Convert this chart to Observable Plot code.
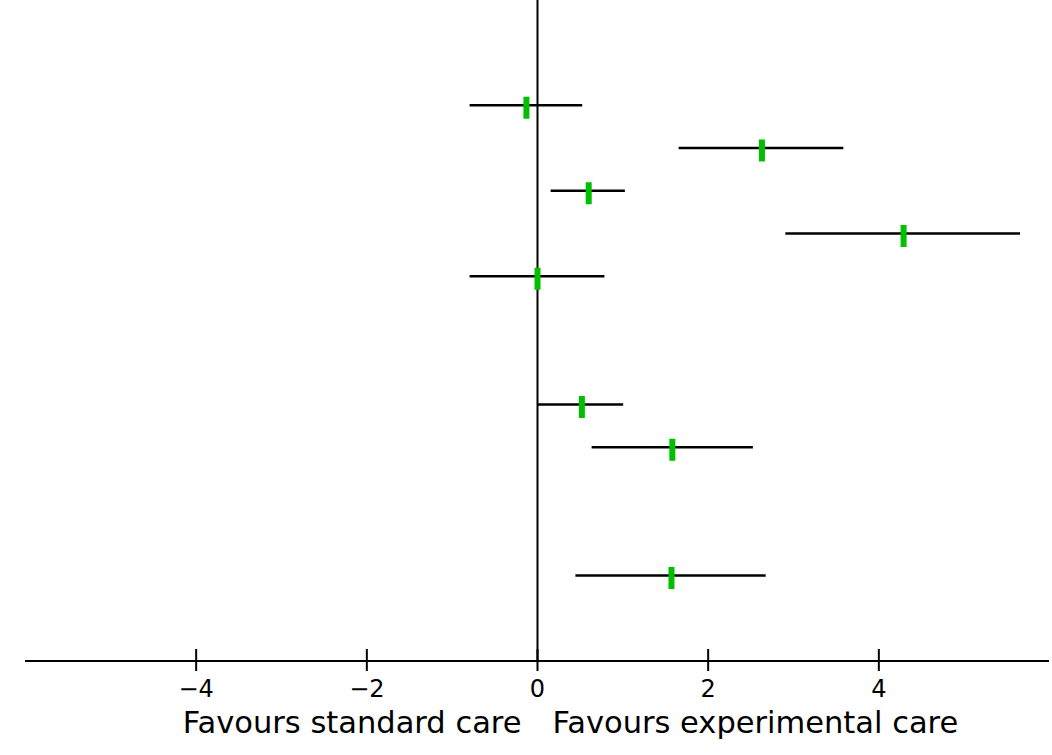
<!DOCTYPE html>
<html>
<head>
<meta charset="utf-8">
<script src="https://cdn.jsdelivr.net/npm/d3@7"></script>
<script src="https://cdn.jsdelivr.net/npm/@observablehq/plot@0.6"></script>
<style>
  html, body { margin: 0; padding: 0; background: #fff; }
</style>
</head>
<body>
<div id="chart"></div>
<script>
// Row positions (counted up from the axis), estimates and confidence limits
const rows = [13, 12, 11, 10, 9, 6, 5, 2];
const estimates = [-0.13, 2.63, 0.60, 4.29, 0.00, 0.52, 1.58, 1.57];
const lower = [-0.79, 1.66, 0.16, 2.91, -0.79, 0.00, 0.64, 0.45];
const upper = [0.53, 3.59, 1.03, 5.66, 0.79, 1.01, 2.53, 2.68];
const tickValues = [-4, -2, 0, 2, 4];
const tickLabels = ["\u22124", "\u22122", "0", "2", "4"];
const leftLabel = "Favours standard care";
const rightLabel = "Favours experimental care";

const studies = rows.map((r, i) => ({row: r, est: estimates[i], lo: lower[i], hi: upper[i]}));
const ticks = tickValues.map((v, i) => ({v, label: tickLabels[i]}));

const tickSymbol = {draw(ctx) { ctx.moveTo(0, -12); ctx.lineTo(0, 10); }};
const boxSymbol = {draw(ctx) { ctx.rect(-3, -11, 6, 22); }};

const chart = Plot.plot({
  width: 1052,
  height: 755,
  marginLeft: 25,
  marginRight: 3,
  marginTop: 0,
  marginBottom: 94.5,
  style: {fontFamily: "DejaVu Sans", background: "#fff", color: "#000"},
  x: {domain: [-6, 6], axis: null},
  y: {domain: [0, 15.45], axis: null},
  marks: [
    Plot.ruleX([0], {stroke: "#000", strokeWidth: 2}),
    Plot.ruleY([0], {stroke: "#000", strokeWidth: 2}),
    Plot.dot(ticks, {x: "v", y: () => 0, symbol: tickSymbol, r: 1, stroke: "#000", strokeWidth: 2, fill: "none"}),
    Plot.text(ticks, {x: "v", y: () => 0, text: "label", dy: 28.5, fontSize: 24, fill: "#000", lineAnchor: "middle"}),
    Plot.ruleY(studies, {x1: "lo", x2: "hi", y: "row", stroke: "#000", strokeWidth: 2.5}),
    Plot.dot(studies, {x: "est", y: "row", symbol: boxSymbol, r: 1, fill: "#00bf00", stroke: "none", dy: 2.5}),
    Plot.text([leftLabel], {x: () => 0, y: () => 0, text: d => d, textAnchor: "end", dx: -16, dy: 62, fontSize: 30.5, fill: "#000", lineAnchor: "middle"}),
    Plot.text([rightLabel], {x: () => 0, y: () => 0, text: d => d, textAnchor: "start", dx: 15, dy: 62, fontSize: 30.5, fill: "#000", lineAnchor: "middle"})
  ]
});
document.getElementById("chart").appendChild(chart);
</script>
</body>
</html>
